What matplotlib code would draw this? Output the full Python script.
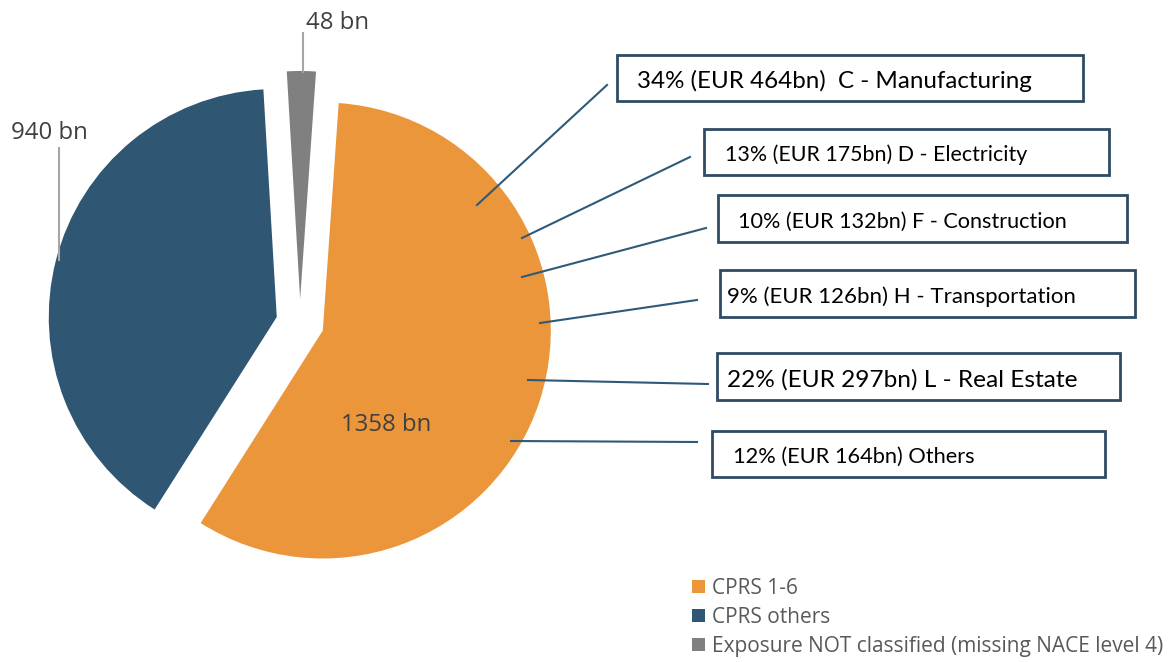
import matplotlib.pyplot as plt
from matplotlib.patches import Rectangle

# === DATA ===
segments = ["CPRS 1-6", "CPRS others", "Exposure NOT classified (missing NACE level 4)"]
exposure_bn = [1358, 940, 48]
seg_colors = ["#EC963C", "#2F5673", "#808080"]

sectors = ["C - Manufacturing", "D - Electricity", "F - Construction",
           "H - Transportation", "L - Real Estate", "Others"]
sector_pct = [34, 13, 10, 9, 22, 12]
sector_bn = [464, 175, 132, 126, 297, 164]

# === LAYOUT (pixel units, y measured from top) ===
W, H = 1169, 662
def px(x, y):
    return x, H - y

# box: left, top, right, bottom ; text x ; font size ; leader start (box side) ; leader end (in slice)
boxes = [
    (617, 55, 1083, 101, 637, 17.4, (607, 85), (477, 205)),
    (704, 129, 1109, 175, 725, 15.4, (690, 157), (522, 238)),
    (718, 195, 1127, 242, 738, 15.6, (706, 228), (522, 277)),
    (720, 270, 1135, 317, 727, 16.0, (697, 300), (540, 323)),
    (717, 353, 1120, 400, 727, 17.6, (708, 384), (528, 380)),
    (712, 431, 1105, 477, 733, 15.7, (697, 442), (511, 441)),
]

fig = plt.figure(figsize=(W / 100, H / 100), dpi=100)
ax = fig.add_axes([0, 0, 1, 1])
ax.set_xlim(0, W)
ax.set_ylim(0, H)
ax.set_aspect("equal")
ax.axis("off")

# === PIE ===
wedges, _ = ax.pie(exposure_bn, colors=seg_colors, startangle=86, counterclock=False,
                   radius=228, center=px(300, 323), explode=[24, 24, 24],
                   wedgeprops=dict(linewidth=0))
ax.set_xlim(0, W)
ax.set_ylim(0, H)

label_col = "#404040"
# value labels
ax.plot(*zip(px(303, 33), px(303, 72)), color="#a6a6a6", lw=1.5)
ax.text(*px(306, 23), f"{exposure_bn[2]} bn", fontsize=17.3, family="Open Sans",
        color=label_col, ha="left", va="center")
ax.plot(*zip(px(59, 148), px(59, 260)), color="#a6a6a6", lw=1.5)
ax.text(*px(11, 133), f"{exposure_bn[1]} bn", fontsize=17.3, family="Open Sans",
        color=label_col, ha="left", va="center")
ax.text(*px(386, 425), f"{exposure_bn[0]} bn", fontsize=17.3, family="Open Sans",
        color=label_col, ha="center", va="center")

# === SECTOR BOXES ===
box_col = "#2F4B63"
line_col = "#2E5A7A"
for i, (l, t, r, b, tx, fs, p0, p1) in enumerate(boxes):
    ax.add_patch(Rectangle(px(l, b), r - l, b - t, fill=False, edgecolor=box_col, lw=2))
    sep = "  " if i == 0 else " "
    txt = f"{sector_pct[i]}% (EUR {sector_bn[i]}bn){sep}{sectors[i]}"
    ax.text(*px(tx, (t + b) / 2 + 3), txt, fontsize=fs, family="Lato", color="black",
            ha="left", va="center")
    ax.plot(*zip(px(*p0), px(*p1)), color=line_col, lw=1.5)

# === LEGEND ===
fig.legend(wedges, segments, loc="upper left", bbox_to_anchor=(692 / W, 1 - 578 / H),
           frameon=False, prop=dict(family="Open Sans", size=15), labelcolor="#595959",
           handlelength=0.6, handleheight=0.6, handletextpad=0.35, labelspacing=0.38,
           borderpad=0, borderaxespad=0)

fig.savefig("out.png", dpi=100)
